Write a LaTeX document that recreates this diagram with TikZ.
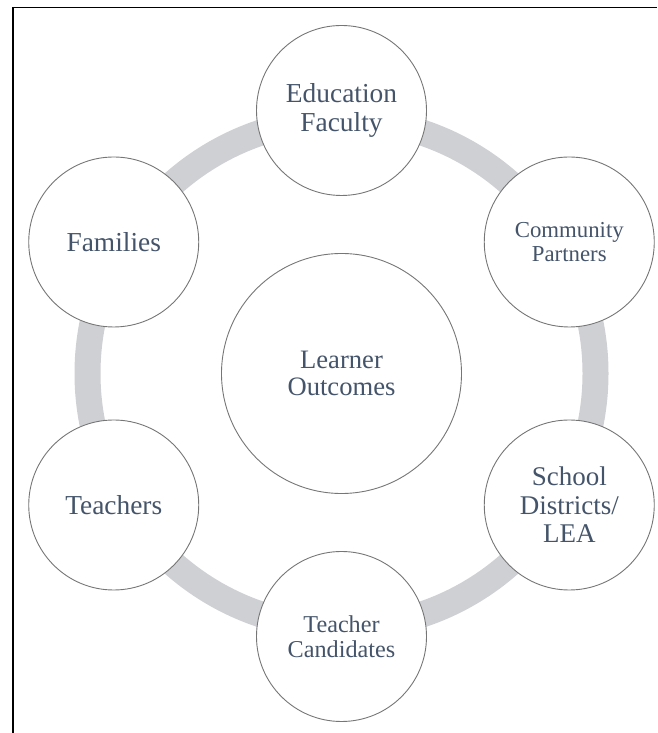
\documentclass[tikz,border=0pt]{standalone}
\usepackage{fontspec}
\setmainfont{Liberation Serif}

\definecolor{ringgray}{RGB}{207,208,212}
\definecolor{labelblue}{RGB}{68,84,106}
\definecolor{rimgray}{RGB}{118,118,118}

\begin{document}
\begin{tikzpicture}[x=1pt,y=1pt,
  partner/.style={circle,draw=rimgray,line width=0.9pt,fill=white,
    minimum size=170pt,inner sep=0pt,align=center,text=labelblue},
  hubnode/.style={partner,minimum size=240pt}]

\useasboundingbox (0,0) rectangle (657,733);

% frame (only the top and left edges are on the page)
\draw[line width=1.2pt] (13,0) -- (13,725.7) -- (657,725.7);

\coordinate (hub) at (341.5,359.5);

% grey ring behind the partners
\draw[ringgray,line width=26pt] (hub) circle[radius=254pt];

\node[hubnode,font=\fontsize{26.6}{27.7}\selectfont]   (lo)  at (hub)      {Learner\\Outcomes};

\node[partner,font=\fontsize{27.4}{29}\selectfont]     (fac) at ([shift={(90:263)}]hub)  {Education\\Faculty};
\node[partner,font=\fontsize{22.8}{23.5}\selectfont]   (com) at ([shift={(30:263)}]hub)  {Community\\Partners};
\node[partner,font=\fontsize{27}{28.5}\selectfont]     (lea) at ([shift={(-30:263)}]hub) {School\\Districts/\\LEA};
\node[partner,font=\fontsize{24.2}{25}\selectfont]     (cand) at ([shift={(-90:263)}]hub) {Teacher\\Candidates};
\node[partner,font=\fontsize{27.4}{29}\selectfont]     (tch) at ([shift={(210:263)}]hub) {Teachers};
\node[partner,font=\fontsize{27.4}{29}\selectfont]     (fam) at ([shift={(150:263)}]hub) {Families};

\end{tikzpicture}
\end{document}
